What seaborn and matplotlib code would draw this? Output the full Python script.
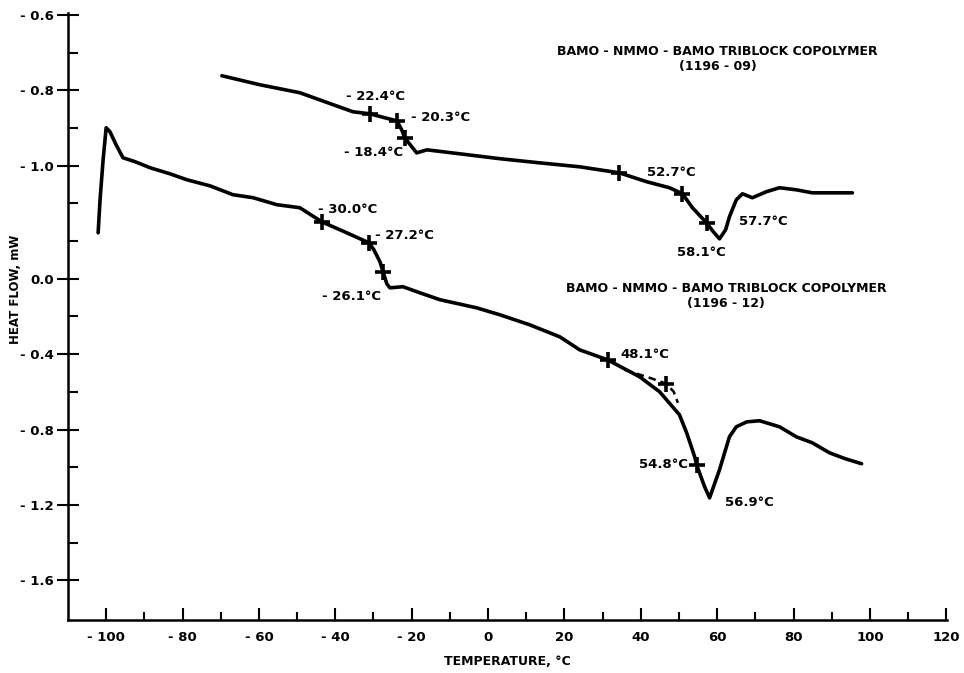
import numpy as np
import pandas as pd
import matplotlib
matplotlib.use("Agg")
import matplotlib.pyplot as plt
import seaborn as sns

# ---- data (temperature in °C, heat flow in lower-curve mW units) ----
low_t = [-102.1, -101.6, -100.8, -100.0, -99.0, -97.4, -95.6, -92.4, -88.5, -83.3, -78.8,
         -72.8, -66.8, -61.5, -55.3, -49.3, -43.5, -37.0, -31.2, -29.9, -28.3, -27.5,
         -26.5, -25.7, -22.3, -17.9, -12.6, -3.0, 3.1, 10.9, 18.8, 24.0, 31.3, 39.7,
         44.9, 50.1, 52.0, 54.1, 54.6, 56.7, 58.0, 60.6, 63.2, 65.0, 67.7, 71.1, 76.3,
         80.7, 84.9, 89.4, 93.6, 97.8]
low_q = [0.244, 0.419, 0.631, 0.801, 0.780, 0.711, 0.642, 0.621, 0.589, 0.557, 0.525,
         0.493, 0.446, 0.430, 0.393, 0.377, 0.302, 0.244, 0.191, 0.154, 0.090, 0.037,
         -0.027, -0.048, -0.042, -0.074, -0.111, -0.154, -0.191, -0.244, -0.308, -0.377,
         -0.430, -0.520, -0.599, -0.721, -0.817, -0.944, -0.987, -1.103, -1.162, -1.013,
         -0.838, -0.785, -0.759, -0.753, -0.785, -0.838, -0.870, -0.923, -0.955, -0.981]

dash_t = [35.8, 42.3, 46.7, 48.6, 49.7]
dash_q = [-0.483, -0.525, -0.557, -0.599, -0.658]

up_t = [-69.7, -59.7, -49.3, -35.4, -30.9, -27.0, -23.9, -22.6, -21.8, -20.2, -18.7,
        -16.0, -7.4, 3.1, 13.5, 24.0, 34.4, 41.5, 47.5, 50.9, 53.5, 57.2, 59.0, 60.6,
        62.2, 63.2, 65.0, 66.6, 69.2, 72.9, 76.3, 80.7, 84.9, 90.2, 95.4]
up_q = [1.077, 1.029, 0.987, 0.886, 0.875, 0.854, 0.838, 0.790, 0.748, 0.706, 0.668,
        0.684, 0.663, 0.637, 0.615, 0.594, 0.562, 0.515, 0.483, 0.451, 0.377, 0.297,
        0.249, 0.212, 0.260, 0.329, 0.419, 0.451, 0.430, 0.462, 0.483, 0.472, 0.456,
        0.456, 0.456]

up_mark_t = [-30.9, -23.9, -21.8, 34.4, 50.9, 57.2]
up_mark_q = [0.875, 0.838, 0.748, 0.562, 0.451, 0.297]
low_mark_t = [-43.5, -31.2, -27.5, 31.3, 46.7, 54.6]
low_mark_q = [0.302, 0.191, 0.037, -0.430, -0.557, -0.987]

ann_text = ["- 22.4°C", "- 20.3°C", "- 18.4°C", "52.7°C", "57.7°C", "58.1°C",
            "- 30.0°C", "- 27.2°C", "- 26.1°C", "48.1°C", "54.8°C", "56.9°C"]
ann_t = [-29.6, -20.2, -22.3, 48.0, 65.8, 55.9, -44.5, -29.6, -28.1, 34.7, 52.2, 62.0]
ann_q = [0.966, 0.854, 0.668, 0.562, 0.302, 0.138, 0.366, 0.228, -0.095, -0.403, -0.987, -1.188]
ann_ha = ["center", "left", "right", "center", "left", "center",
          "left", "left", "right", "left", "right", "left"]

title_text = ["BAMO - NMMO - BAMO TRIBLOCK COPOLYMER\n(1196 - 09)",
              "BAMO - NMMO - BAMO TRIBLOCK COPOLYMER\n(1196 - 12)"]
title_t = [60.1, 62.4]
title_q = [1.165, -0.092]

x_ticks = [-100, -80, -60, -40, -20, 0, 20, 40, 60, 80, 100, 120]
x_labels = ["- 100", "- 80", "- 60", "- 40", "- 20", "0", "20", "40", "60", "80", "100", "120"]
y_ticks = [1.4, 1.0, 0.6, 0.0, -0.4, -0.8, -1.2, -1.6]
y_labels = ["- 0.6", "- 0.8", "- 1.0", "0.0", "- 0.4", "- 0.8", "- 1.2", "- 1.6"]
y_minor = [1.2, 0.8, 0.4, 0.2, -0.2, -0.6, -1.0, -1.4]

# ---- plotting ----
sns.set_theme(style="ticks")
plt.rcParams["font.family"] = ["DejaVu Sans"]
plt.rcParams["font.weight"] = "bold"
plt.rcParams["text.color"] = "black"
plt.rcParams["axes.labelcolor"] = "black"
plt.rcParams["xtick.color"] = "black"
plt.rcParams["ytick.color"] = "black"

fig = plt.figure(figsize=(9.64, 6.73), dpi=100)
ax = fig.add_axes([0.0705, 0.079, 0.912, 0.902])

lw = 2.6
sns.lineplot(x=low_t, y=low_q, ax=ax, color="black", lw=lw, sort=False, estimator=None)
sns.lineplot(x=up_t, y=up_q, ax=ax, color="black", lw=lw, sort=False, estimator=None)
ax.plot(dash_t, dash_q, color="black", lw=1.8, ls=(0, (3, 2)))
ax.plot(up_mark_t, up_mark_q, ls="none", marker="+", ms=12, mew=2.6, color="black")
ax.plot(low_mark_t, low_mark_q, ls="none", marker="+", ms=12, mew=2.6, color="black")

for s, t, q, ha in zip(ann_text, ann_t, ann_q, ann_ha):
    ax.text(t, q, s, ha=ha, va="center", fontsize=9.5, fontweight="bold", color="black")
for s, t, q in zip(title_text, title_t, title_q):
    ax.text(t, q, s, ha="center", va="center", fontsize=9, fontweight="bold",
            linespacing=1.25, color="black")

ax.set_xlim(-110, 120.2)
ax.set_ylim(-1.809, 1.411)
ax.set_xticks(x_ticks)
ax.set_xticklabels(x_labels, fontsize=9.5, fontweight="bold")
ax.set_xticks([-90, -70, -50, -30, -10, 10, 30, 50, 70, 90, 110], minor=True)
ax.set_yticks(y_ticks)
ax.set_yticklabels(y_labels, fontsize=9.5, fontweight="bold")
ax.set_yticks(y_minor, minor=True)
ax.tick_params(axis="x", which="major", direction="in", length=9, width=1.5, pad=8)
ax.tick_params(axis="x", which="minor", direction="in", length=6, width=1.5)
ax.tick_params(axis="y", which="major", direction="inout", length=16, width=1.5, pad=2)
ax.tick_params(axis="y", which="minor", direction="in", length=7, width=1.5)

for side in ["top", "right"]:
    ax.spines[side].set_visible(False)
for side in ["left", "bottom"]:
    ax.spines[side].set_linewidth(1.8)
    ax.spines[side].set_color("black")

ax.set_xlabel("TEMPERATURE, °C", fontsize=9, fontweight="bold", labelpad=8)
ax.set_ylabel("HEAT FLOW, mW", fontsize=8.5, fontweight="bold")
ax.yaxis.set_label_coords(-0.052, 0.544)

fig.savefig("out.png", dpi=100, facecolor="white")
